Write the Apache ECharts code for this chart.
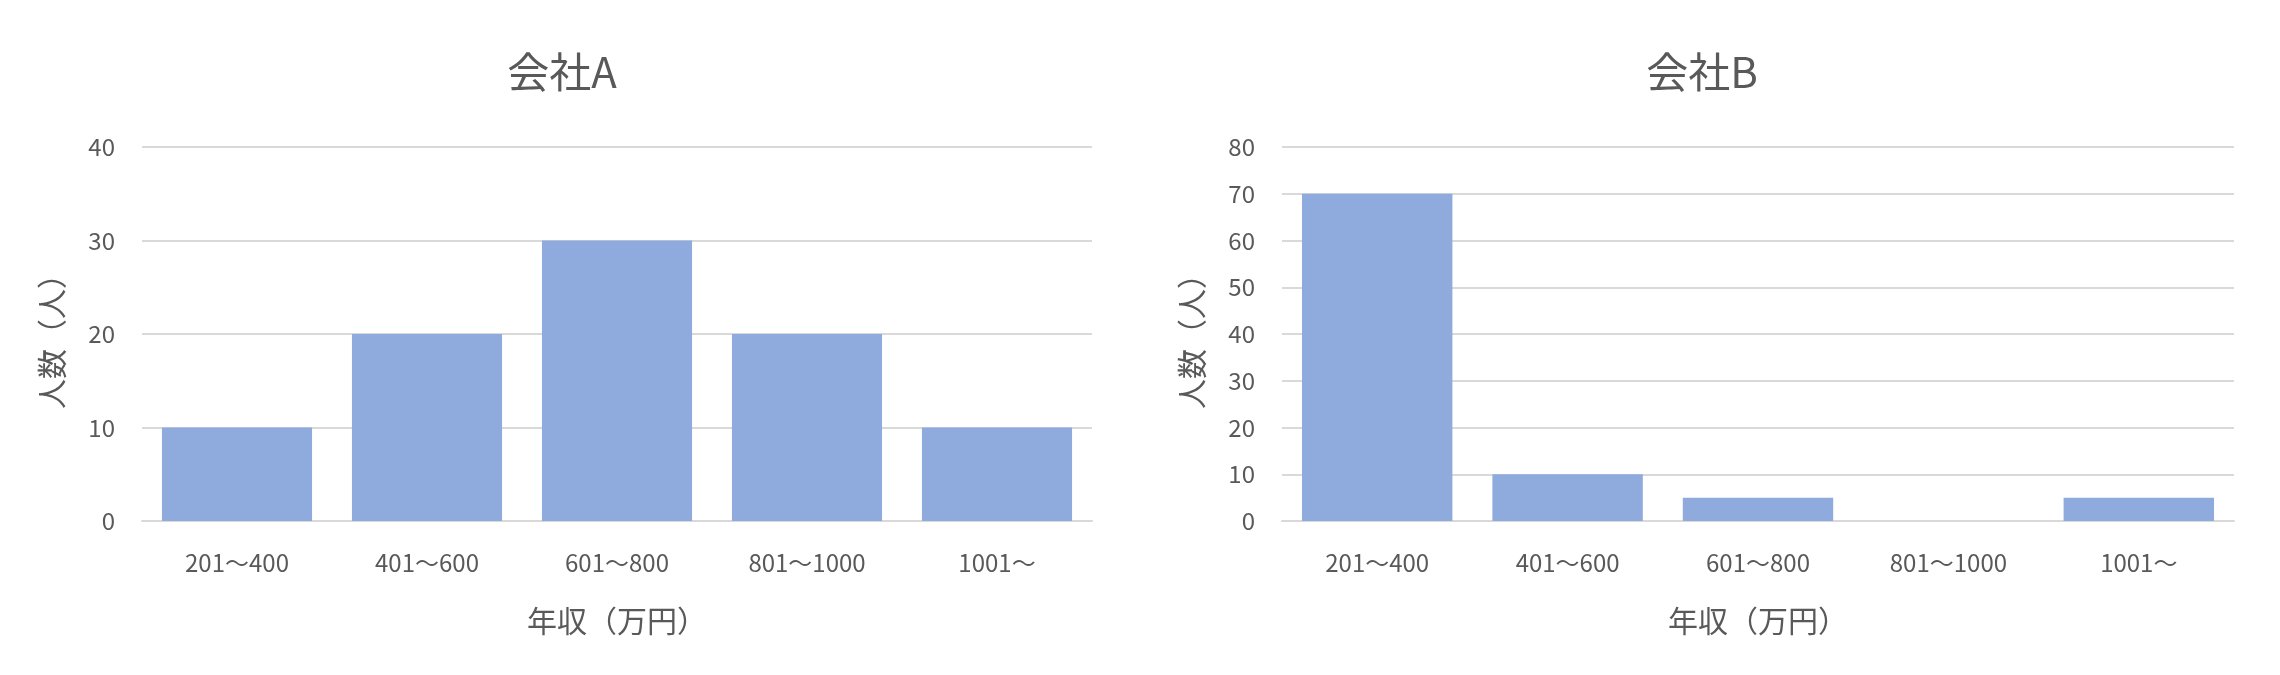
<!DOCTYPE html>
<html>
<head>
<meta charset="utf-8">
<script src="https://cdn.jsdelivr.net/npm/echarts@6/dist/echarts.min.js"></script>
<style>
html,body{margin:0;padding:0;background:#fff;}
#c{width:2280px;height:675px;}
</style>
</head>
<body>
<div id="c"></div>
<script>
const categories = ['201～400', '401～600', '601～800', '801～1000', '1001～'];
const companyA = [10, 20, 30, 20, 10];
const companyB = [70, 10, 5, 0, 5];
const titles = ['会社A', '会社B'];
const yTicksA = { min: 0, max: 40, interval: 10 };
const yTicksB = { min: 0, max: 80, interval: 10 };
const xName = '年収（万円）';
const yName = '人数（人）';

const FONT = '"Noto Sans CJK JP", "Noto Sans", sans-serif';
const TXT = '#595959';
const GRID = '#D9D9D9';
const BAR = '#8FAADC';

function xAxis(i) {
  return {
    type: 'category', gridIndex: i, data: categories,
    axisLine: { show: true, lineStyle: { color: GRID, width: 2 } },
    axisTick: { show: false },
    axisLabel: { color: TXT, fontSize: 24, fontFamily: FONT, margin: 30 },
    name: xName, nameLocation: 'middle', nameGap: 85,
    nameTextStyle: { color: TXT, fontSize: 30, fontFamily: FONT }
  };
}
function yAxis(i, t) {
  return {
    type: 'value', gridIndex: i, min: t.min, max: t.max, interval: t.interval,
    axisLine: { show: false }, axisTick: { show: false },
    splitLine: { lineStyle: { color: GRID, width: 2 } },
    axisLabel: { color: TXT, fontSize: 24, fontFamily: FONT, margin: 27 },
    name: yName, nameLocation: 'middle', nameGap: 75, nameRotate: 90,
    nameTextStyle: { color: TXT, fontSize: 30, fontFamily: FONT }
  };
}

const chart = echarts.init(document.getElementById('c'), null, { renderer: 'canvas' });
chart.setOption({
  backgroundColor: '#fff',
  animation: false,
  title: [
    { text: titles[0], left: 557, top: 46, textAlign: 'center',
      textStyle: { color: TXT, fontSize: 42, fontWeight: 'normal', fontFamily: FONT } },
    { text: titles[1], left: 1697, top: 46, textAlign: 'center',
      textStyle: { color: TXT, fontSize: 42, fontWeight: 'normal', fontFamily: FONT } }
  ],
  grid: [
    { left: 142, width: 950, top: 147, height: 374, containLabel: false },
    { left: 1282, width: 952, top: 147, height: 374, containLabel: false }
  ],
  xAxis: [xAxis(0), xAxis(1)],
  yAxis: [yAxis(0, yTicksA), yAxis(1, yTicksB)],
  series: [
    { type: 'bar', xAxisIndex: 0, yAxisIndex: 0, data: companyA, barCategoryGap: '21%',
      itemStyle: { color: BAR } },
    { type: 'bar', xAxisIndex: 1, yAxisIndex: 1, data: companyB, barCategoryGap: '21%',
      itemStyle: { color: BAR } }
  ]
});
</script>
</body>
</html>
